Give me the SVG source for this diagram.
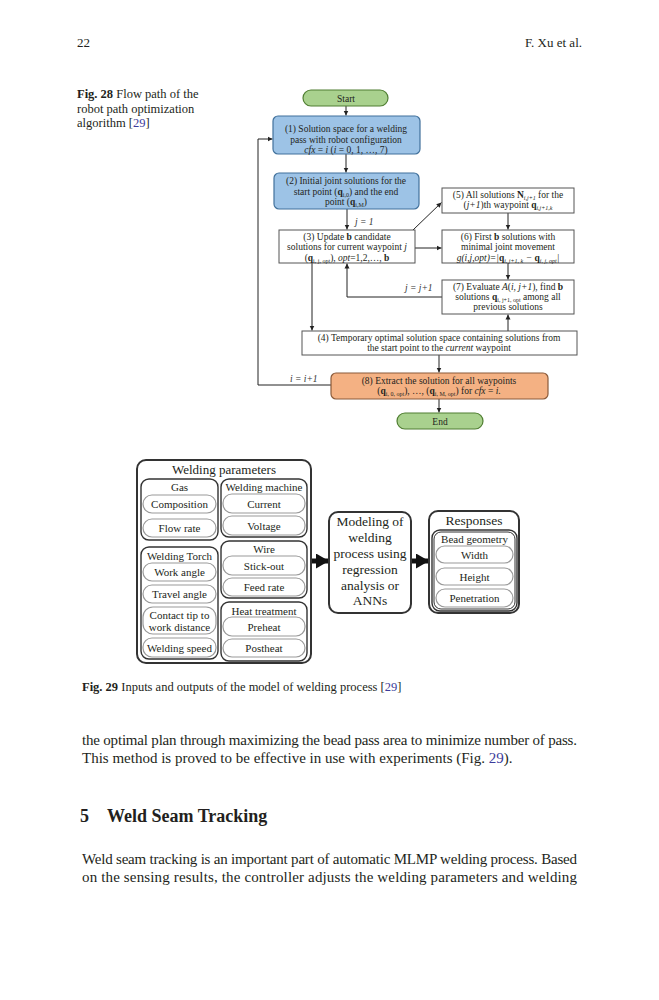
<svg xmlns="http://www.w3.org/2000/svg" width="659" height="1000" viewBox="0 0 659 1000">
<style>
text{font-family:"Liberation Serif","Times New Roman",serif;fill:#231f20}
.pg{font-size:15px}
.cap{font-size:12.5px}
.fc{font-size:9.5px;text-anchor:middle}
.lbl{font-size:9.5px;font-style:italic;fill:#333}
.blue{fill:#9dc3e6;stroke:#41719c;stroke-width:1.2}
.green{fill:#a9d18e;stroke:#507e32;stroke-width:1.2}
.orange{fill:#f4b183;stroke:#8a5a3a;stroke-width:1.2}
.white{fill:#fff;stroke:#555;stroke-width:1}
.con{fill:none;stroke:#222;stroke-width:1;marker-end:url(#ah)}
.big{fill:none;stroke:#333;stroke-width:2}
.sub{fill:none;stroke:#333;stroke-width:1.4}
.pill{fill:#fff;stroke:#9a9a9a;stroke-width:1.2}
.pt{font-size:11px;text-anchor:middle}
.ttl{font-size:11px;text-anchor:middle}
.hd{font-size:13.5px;text-anchor:middle}
.link{fill:#3b3b9b}
</style>
<defs>
<marker id="ah" markerWidth="6" markerHeight="6" refX="5" refY="3" orient="auto" markerUnits="userSpaceOnUse">
<path d="M0,0.5 L5,3 L0,5.5 z" fill="#222"/>
</marker>
<marker id="bh" markerWidth="13" markerHeight="15" refX="12" refY="7.5" orient="auto" markerUnits="userSpaceOnUse">
<path d="M0,0 L13,7.5 L0,15 z" fill="#111"/>
</marker>
</defs>

<!-- page text -->
<g id="page">
<text x="77" y="47" style="font-size:13px">22</text>
<text x="582" y="47" style="font-size:13px;text-anchor:end">F. Xu et al.</text>
<text class="cap" x="77" y="98"><tspan font-weight="bold">Fig. 28</tspan>  Flow path of the</text>
<text class="cap" x="77" y="113">robot path optimization</text>
<text class="cap" x="77" y="127">algorithm [<tspan class="link">29</tspan>]</text>
<text class="cap" x="82" y="691"><tspan font-weight="bold">Fig. 29</tspan>  Inputs and outputs of the model of welding process [<tspan class="link">29</tspan>]</text>
<text class="pg" x="82" y="745" textLength="495" lengthAdjust="spacing">the optimal plan through maximizing the bead pass area to minimize number of pass.</text>
<text class="pg" x="82" y="763">This method is proved to be effective in use with experiments (Fig. <tspan class="link">29</tspan>).</text>
<text x="80" y="822" style="font-size:18px;font-weight:bold">5</text>
<text x="107" y="822" style="font-size:18px;font-weight:bold">Weld Seam Tracking</text>
<text class="pg" x="82" y="864" textLength="495" lengthAdjust="spacing">Weld seam tracking is an important part of automatic MLMP welding process. Based</text>
<text class="pg" x="82" y="882" textLength="495" lengthAdjust="spacing">on the sensing results, the controller adjusts the welding parameters and welding</text>
</g>

<!-- Fig 28 connectors -->
<g id="connectors28">
<line class="con" x1="346" y1="106" x2="346" y2="115.5"/>
<line class="con" x1="346" y1="154" x2="346" y2="172.5"/>
<line class="con" x1="347" y1="209" x2="347" y2="229.5"/>
<line class="con" x1="413" y1="230" x2="441.5" y2="202.5"/>
<line class="con" x1="415" y1="248" x2="441.5" y2="248"/>
<line class="con" x1="508" y1="213" x2="508" y2="229.5"/>
<line class="con" x1="508" y1="263" x2="508" y2="279.5"/>
<path class="con" d="M442,297 H347 V263.5"/>
<line class="con" x1="312" y1="263" x2="312" y2="330.5"/>
<line class="con" x1="508" y1="331" x2="508" y2="314.5"/>
<line class="con" x1="439" y1="355" x2="439" y2="372.5"/>
<path class="con" d="M331,385 H258 V139 H272.5"/>
<line class="con" x1="439" y1="399" x2="439" y2="412.5"/>
<text class="lbl" x="355" y="225">j = 1</text>
<text class="lbl" x="405" y="291">j = j+1</text>
<text class="lbl" x="290" y="382">i = i+1</text>
</g>

<g id="start"><rect class="green" x="303" y="90" width="85" height="16" rx="8"/><text class="fc" x="346" y="101.5">Start</text></g>
<g id="n1"><rect class="blue" x="273" y="116" width="147" height="38" rx="5"/>
<text class="fc" x="346" y="132">(1) Solution space for a welding</text>
<text class="fc" x="346" y="142.5">pass with robot configuration</text>
<text class="fc" x="346" y="153"><tspan font-style="italic">cfx</tspan> = <tspan font-style="italic">i</tspan> (<tspan font-style="italic">i</tspan> = 0, 1, …, 7)</text></g>
<g id="n2"><rect class="blue" x="274" y="173" width="145" height="36" rx="5"/>
<text class="fc" x="346" y="184">(2) Initial joint solutions for the</text>
<text class="fc" x="346" y="194.5">start point (<tspan font-weight="bold">q</tspan><tspan font-size="6" dy="2">i,0</tspan><tspan dy="-2">) and the end</tspan></text>
<text class="fc" x="346" y="205">point (<tspan font-weight="bold">q</tspan><tspan font-size="6" dy="2">i,M</tspan><tspan dy="-2">)</tspan></text></g>
<g id="n3"><rect class="white" x="279" y="230" width="136" height="33"/>
<text class="fc" x="347" y="239.5">(3) Update <tspan font-weight="bold">b</tspan> candidate</text>
<text class="fc" x="347" y="250">solutions for current waypoint <tspan font-style="italic">j</tspan></text>
<text class="fc" x="347" y="260.5">(<tspan font-weight="bold">q</tspan><tspan font-size="6" dy="2">i, j, opt</tspan><tspan dy="-2">), </tspan><tspan font-style="italic">opt</tspan>=1,2,…, <tspan font-weight="bold">b</tspan></text></g>
<g id="n5"><rect class="white" x="442" y="188" width="132" height="25"/>
<text class="fc" x="508" y="197.5">(5) All solutions <tspan font-weight="bold">N</tspan><tspan font-size="6" dy="2" font-style="italic">i,j+1</tspan><tspan dy="-2"> for the</tspan></text>
<text class="fc" x="508" y="207.5">(<tspan font-style="italic">j+1</tspan>)th waypoint <tspan font-weight="bold">q</tspan><tspan font-size="6" dy="2" font-style="italic">i,j+1,k</tspan></text></g>
<g id="n6"><rect class="white" x="442" y="230" width="132" height="33"/>
<text class="fc" x="508" y="239.5">(6) First <tspan font-weight="bold">b</tspan> solutions with</text>
<text class="fc" x="508" y="250">minimal joint movement</text>
<text class="fc" x="508" y="261" style="font-style:italic">g(i,j,opt)=|<tspan font-weight="bold" font-style="normal">q</tspan><tspan font-size="6" dy="2">i, j+1, k</tspan><tspan dy="-2"> − </tspan><tspan font-weight="bold" font-style="normal">q</tspan><tspan font-size="6" dy="2">i, j, opt</tspan><tspan dy="-2">|</tspan></text></g>
<g id="n7"><rect class="white" x="442" y="280" width="132" height="34"/>
<text class="fc" x="508" y="290">(7) Evaluate <tspan font-style="italic">A</tspan>(<tspan font-style="italic">i</tspan>, <tspan font-style="italic">j+1</tspan>), find <tspan font-weight="bold">b</tspan></text>
<text class="fc" x="508" y="300">solutions <tspan font-weight="bold">q</tspan><tspan font-size="6" dy="2">i, j+1, opt</tspan><tspan dy="-2"> among all</tspan></text>
<text class="fc" x="508" y="310">previous solutions</text></g>
<g id="n4"><rect class="white" x="302" y="331" width="275" height="24"/>
<text class="fc" x="439" y="340.5">(4) Temporary optimal solution space containing solutions from</text>
<text class="fc" x="439" y="350.5">the start point to the <tspan font-style="italic">current</tspan> waypoint</text></g>
<g id="n8"><rect class="orange" x="331" y="373" width="217" height="26" rx="5"/>
<text class="fc" x="439" y="383.5">(8) Extract the solution for all waypoints</text>
<text class="fc" x="439" y="394">(<tspan font-weight="bold">q</tspan><tspan font-size="6" dy="2">i, 0, opt</tspan><tspan dy="-2">), …, (</tspan><tspan font-weight="bold">q</tspan><tspan font-size="6" dy="2">i, M, opt</tspan><tspan dy="-2">) for </tspan><tspan font-style="italic">cfx</tspan> = <tspan font-style="italic">i</tspan>.</text></g>
<g id="end"><rect class="green" x="397" y="413" width="86" height="16" rx="8"/><text class="fc" x="440" y="424.5">End</text></g>

<!-- Fig 29 -->
<g id="connectors29">
<line x1="311" y1="561" x2="328" y2="561" stroke="#111" stroke-width="5" marker-end="url(#bh)"/>
<line x1="411" y1="561" x2="428" y2="561" stroke="#111" stroke-width="5" marker-end="url(#bh)"/>
</g>
<g id="welding-parameters">
<rect class="big" x="137" y="460" width="174" height="203" rx="9"/>
<text class="hd" x="224" y="474" style="font-size:13px">Welding parameters</text>
</g>
<g id="gas">
<rect class="sub" x="141" y="479" width="77" height="61" rx="8"/>
<text class="ttl" x="179.5" y="491">Gas</text>
<rect class="pill" x="143" y="495" width="73" height="18" rx="9"/><text class="pt" x="179.5" y="508">Composition</text>
<rect class="pill" x="143" y="519" width="73" height="18" rx="9"/><text class="pt" x="179.5" y="532">Flow rate</text>
</g>
<g id="welding-machine">
<rect class="sub" x="221" y="479" width="86" height="58" rx="8"/>
<text class="ttl" x="264" y="491">Welding machine</text>
<rect class="pill" x="223" y="494" width="82" height="19" rx="9"/><text class="pt" x="264" y="507.5">Current</text>
<rect class="pill" x="223" y="516" width="82" height="19" rx="9"/><text class="pt" x="264" y="529.5">Voltage</text>
</g>
<g id="welding-torch">
<rect class="sub" x="141" y="547" width="77" height="112" rx="8"/>
<text class="ttl" x="179.5" y="560">Welding Torch</text>
<rect class="pill" x="143" y="563" width="73" height="18" rx="9"/><text class="pt" x="179.5" y="575.5">Work angle</text>
<rect class="pill" x="143" y="585" width="73" height="18" rx="9"/><text class="pt" x="179.5" y="598">Travel angle</text>
<rect class="pill" x="143" y="607" width="73" height="27" rx="10"/><text class="pt" x="179.5" y="618.5">Contact tip to</text><text class="pt" x="179.5" y="630.5">work distance</text>
<rect class="pill" x="143" y="638" width="73" height="19" rx="9"/><text class="pt" x="179.5" y="651.5">Welding speed</text>
</g>
<g id="wire">
<rect class="sub" x="221" y="541" width="86" height="57" rx="8"/>
<text class="ttl" x="264" y="553">Wire</text>
<rect class="pill" x="223" y="556" width="82" height="19" rx="9"/><text class="pt" x="264" y="569.5">Stick-out</text>
<rect class="pill" x="223" y="578" width="82" height="18" rx="9"/><text class="pt" x="264" y="591">Feed rate</text>
</g>
<g id="heat-treatment">
<rect class="sub" x="221" y="602" width="86" height="59" rx="8"/>
<text class="ttl" x="264" y="614.5">Heat treatment</text>
<rect class="pill" x="223" y="617" width="82" height="19" rx="9"/><text class="pt" x="264" y="630.5">Preheat</text>
<rect class="pill" x="223" y="639" width="82" height="18" rx="9"/><text class="pt" x="264" y="652">Postheat</text>
</g>
<g id="modeling">
<rect class="big" x="329" y="512" width="82" height="101" rx="9"/>
<text class="hd" x="370" y="526">Modeling of</text>
<text class="hd" x="370" y="542">welding</text>
<text class="hd" x="370" y="558">process using</text>
<text class="hd" x="370" y="574">regression</text>
<text class="hd" x="370" y="590">analysis or</text>
<text class="hd" x="370" y="605">ANNs</text>
</g>
<g id="responses">
<rect class="big" x="429" y="511" width="90" height="102" rx="9"/>
<text class="hd" x="474" y="525">Responses</text>
<rect class="sub" x="432" y="530" width="85" height="81" rx="8"/>
<rect fill="none" stroke="#333" stroke-width="1" x="434" y="532" width="81" height="77" rx="7"/>
<text class="ttl" x="474.5" y="543">Bead geometry</text>
<rect class="pill" x="436" y="546" width="77" height="17" rx="8.5"/><text class="pt" x="474.5" y="558.5">Width</text>
<rect class="pill" x="436" y="568" width="77" height="17" rx="8.5"/><text class="pt" x="474.5" y="580.5">Height</text>
<rect class="pill" x="436" y="589" width="77" height="18" rx="9"/><text class="pt" x="474.5" y="602">Penetration</text>
</g>
</svg>
